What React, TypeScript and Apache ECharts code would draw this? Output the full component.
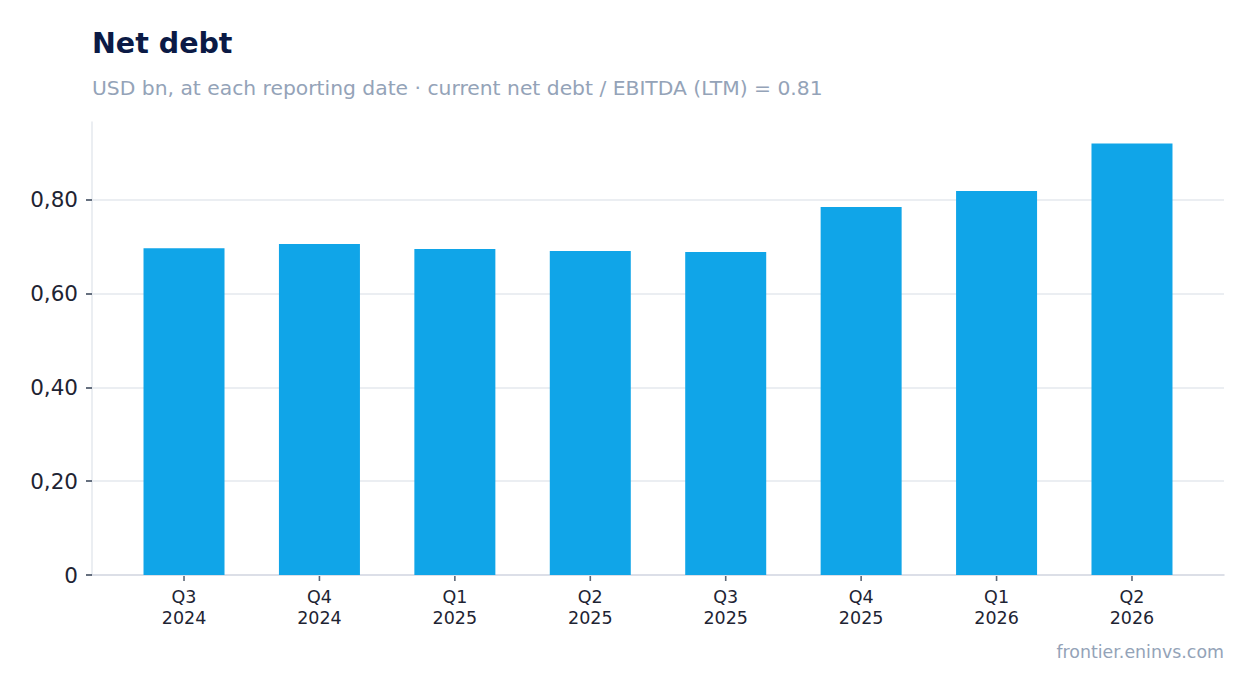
import * as echarts from 'echarts';
import { useEffect, useRef } from 'react';

// quarters and net debt, USD bn
const quarters = ['Q3\n2024', 'Q4\n2024', 'Q1\n2025', 'Q2\n2025', 'Q3\n2025', 'Q4\n2025', 'Q1\n2026', 'Q2\n2026'];
const netDebt = [0.697, 0.706, 0.695, 0.691, 0.689, 0.785, 0.819, 0.92];
const yTicks = [0, 0.2, 0.4, 0.6, 0.8];

const FONT = '"DejaVu Sans", sans-serif';
const yMax = Math.max(...netDebt) * 1.05;

export default function App() {
  const ref = useRef<HTMLDivElement>(null);

  useEffect(() => {
    document.body.style.margin = '0';
    if (!ref.current) return;
    const chart = echarts.init(ref.current, null, { renderer: 'svg' });
    chart.setOption({
      animation: false,
      backgroundColor: '#ffffff',
      title: [
        {
          text: 'Net debt',
          left: 92,
          top: 29,
          padding: 0,
          textStyle: { fontFamily: FONT, fontSize: 28.5, fontWeight: 'bold', color: '#0b1a45' }
        },
        {
          text: 'USD bn, at each reporting date · current net debt / EBITDA (LTM) = 0.81',
          left: 92,
          top: 78,
          padding: 0,
          textStyle: { fontFamily: FONT, fontSize: 20.3, fontWeight: 'normal', color: '#94a3b8' }
        },
        {
          text: 'frontier.eninvs.com',
          right: 30,
          top: 643,
          padding: 0,
          textStyle: { fontFamily: FONT, fontSize: 17.4, fontWeight: 'normal', color: '#94a3b8' }
        }
      ],
      grid: [
        // frame: y axis, gridlines, x axis line
        { left: 92, right: 30, top: 122, bottom: 118, containLabel: false },
        // bars: categories padded inside the frame
        { left: 116.3, right: 54.3, top: 122, bottom: 118, containLabel: false }
      ],
      xAxis: [
        {
          gridIndex: 0,
          type: 'value',
          min: 0,
          max: 1,
          splitLine: { show: false },
          axisTick: { show: false },
          axisLabel: { show: false },
          axisLine: { show: true, onZero: false, lineStyle: { color: '#d1d5e0', width: 1.5 } }
        },
        {
          gridIndex: 1,
          type: 'category',
          data: quarters,
          axisLine: { show: false },
          axisTick: { show: false },
          axisLabel: { fontFamily: FONT, fontSize: 17.5, color: '#1e2433', lineHeight: 21, margin: 11 }
        }
      ],
      yAxis: [
        {
          gridIndex: 0,
          type: 'value',
          min: 0,
          max: yMax,
          interval: 0.2,
          axisLine: { show: true, onZero: false, lineStyle: { color: '#e5e8ee', width: 1.5 } },
          axisTick: { show: true, length: 6, lineStyle: { color: '#334155', width: 1.5 } },
          splitLine: { show: true, showMaxLine: false, showMinLine: false, lineStyle: { color: '#e5e8ee', width: 1.5 } },
          axisLabel: {
            fontFamily: FONT,
            fontSize: 21.5,
            color: '#1e2433',
            margin: 14,
            showMaxLabel: false,
            formatter: (v: number) => {
              if (!yTicks.some((t) => Math.abs(t - v) < 1e-9)) return '';
              return v === 0 ? '0' : v.toFixed(2).replace('.', ',');
            }
          }
        },
        {
          gridIndex: 1,
          type: 'value',
          min: 0,
          max: yMax,
          show: false
        }
      ],
      series: [
        {
          type: 'bar',
          xAxisIndex: 1,
          yAxisIndex: 1,
          data: netDebt,
          barWidth: 81,
          itemStyle: { color: '#10a5e8' }
        },
        {
          // category tick marks under the axis line
          type: 'scatter',
          xAxisIndex: 1,
          yAxisIndex: 1,
          data: quarters.map((q) => [q, 0]),
          symbol: 'rect',
          symbolSize: [1.6, 5],
          symbolOffset: [0, 3.5],
          clip: false,
          silent: true,
          z: 5,
          itemStyle: { color: '#334155' }
        }
      ]
    });
    return () => chart.dispose();
  }, []);

  return <div ref={ref} style={{ width: 1254, height: 693 }} />;
}
